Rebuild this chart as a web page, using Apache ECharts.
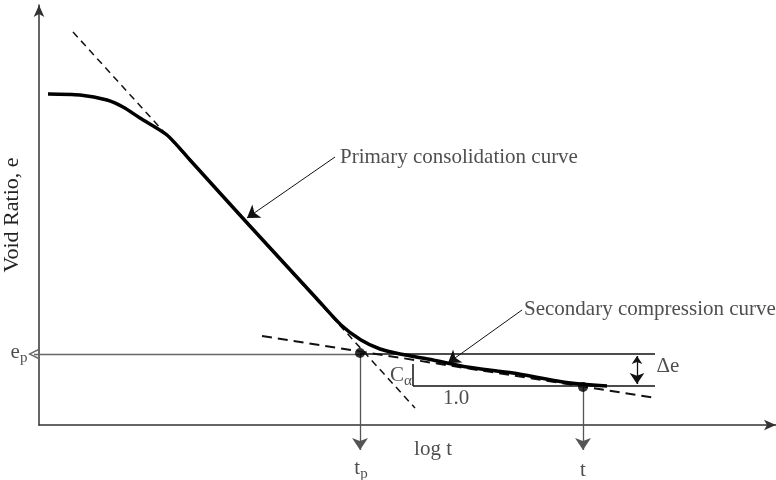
<!DOCTYPE html>
<html>
<head>
<meta charset="utf-8">
<script src="https://cdn.jsdelivr.net/npm/echarts@6/dist/echarts.min.js"></script>
<style>
  html, body { margin: 0; padding: 0; background: #fff; }
  #main { width: 776px; height: 480px; }
</style>
</head>
<body>
<div id="main"></div>
<script>
// schematic units: x = log t, y = void ratio (arbitrary scale)
var primaryCurve = [[9,331],[41,330],[68,325],[84,318],[101,307],[128,290],[151,265],[180,233],[210,200],
  [244,163],[278,126],[302,100],[322,85],[341,76],[361,71],[394,65],[428,58],[474,52],[524,43],[568,39]];
var primaryTangent = [[34,393],[376,17]];
var secondaryTangent = [[223,89],[617,27]];
var keyPoints = [[321,72],[544,38]];          // (tp, ep) and (t, e)
var epLevel = 71, eLevel = 39;
var tpX = 321, tX = 544, slopeX = 374, deltaX = 598;
var xAxisMin = 0, xAxisMax = 737, yAxisMin = 0, yAxisMax = 420;

var labelTexts = ['Primary consolidation curve', 'Secondary compression curve', 'e{sub|p}', 'C{sub|α}',
  '1.0', 'Δe', 'log t', 't{sub|p}', 't'];
var labelPos = [[301,268],[485,116],[-20,73],[362,50],[417,27],[629,59],[394,-24],[322,-43],[544,-45]];
var labelAlign = ['left','left','center','center','center','center','center','center','center'];

var font = 'Liberation Serif';
var chevron = 'path://M0,10 L5,0 L10,10 L8.6,10 L5,2.6 L1.4,10 Z';

var chart = echarts.init(document.getElementById('main'));

var labelData = labelTexts.map(function (txt, i) {
  return {
    value: labelPos[i],
    name: txt,
    label: { align: labelAlign[i] }
  };
});

var option = {
  animation: false,
  grid: { left: 39, right: 0, top: 5, bottom: 55, containLabel: false, outerBoundsMode: 'none' },
  xAxis: {
    type: 'value', min: xAxisMin, max: xAxisMax,
    axisLine: { show: true, symbol: ['none', 'arrow'], symbolSize: [8, 12], lineStyle: { color: '#333', width: 1.5 } },
    axisTick: { show: false }, axisLabel: { show: false }, splitLine: { show: false }
  },
  yAxis: {
    type: 'value', min: yAxisMin, max: yAxisMax,
    name: 'Void Ratio, e', nameLocation: 'middle', nameGap: 16,
    nameTextStyle: { fontFamily: font, fontSize: 22, color: '#222' },
    axisLine: { show: true, symbol: ['none', 'arrow'], symbolSize: [8, 12], lineStyle: { color: '#333', width: 1.5 } },
    axisTick: { show: false }, axisLabel: { show: false }, splitLine: { show: false }
  },
  series: [
    {
      // thin gray e_p line back to the axis
      type: 'lines', coordinateSystem: 'cartesian2d', clip: false, silent: true,
      symbol: ['none', chevron], symbolSize: [8, 12],
      lineStyle: { color: '#666', width: 1.3, opacity: 1 },
      data: [{ coords: [[tpX, epLevel], [-5, epLevel]] }]
    },
    {
      // gray drop arrows to the time axis
      type: 'lines', coordinateSystem: 'cartesian2d', clip: false, silent: true,
      symbol: ['none', 'arrow'], symbolSize: [8, 12],
      lineStyle: { color: '#555', width: 1.3, opacity: 1 },
      data: [
        { coords: [[tpX, epLevel], [tpX, -25]] },
        { coords: [[tX, eLevel], [tX, -25]] }
      ]
    },
    {
      // black reference lines for delta e and slope triangle
      type: 'lines', coordinateSystem: 'cartesian2d', clip: false, silent: true,
      lineStyle: { color: '#111', width: 1.5, opacity: 1 },
      data: [
        { coords: [[tpX, epLevel], [616, epLevel]] },
        { coords: [[slopeX, eLevel], [616, eLevel]] },
        { coords: [[slopeX, 61], [slopeX, eLevel]] }
      ]
    },
    {
      type: 'lines', coordinateSystem: 'cartesian2d', clip: false, silent: true,
      symbol: ['arrow', 'arrow'], symbolSize: [8, 11],
      lineStyle: { color: '#111', width: 1.3, opacity: 1 },
      data: [{ coords: [[deltaX, 69], [deltaX, 41]] }]
    },
    {
      // annotation pointers
      type: 'lines', coordinateSystem: 'cartesian2d', clip: false, silent: true,
      symbol: ['none', 'arrow'], symbolSize: [8, 12],
      lineStyle: { color: '#111', width: 1, opacity: 1 },
      data: [
        { coords: [[296, 268], [208, 207]] },
        { coords: [[483, 115], [409, 62]] }
      ]
    },
    {
      type: 'line', data: primaryTangent, symbol: 'none', silent: true,
      lineStyle: { color: '#111', width: 1.5, type: [7, 5] }
    },
    {
      type: 'line', data: secondaryTangent, symbol: 'none', silent: true,
      lineStyle: { color: '#111', width: 2, type: [10, 6] }
    },
    {
      type: 'line', data: primaryCurve, smooth: 0.25, symbol: 'none', silent: true,
      lineStyle: { color: '#000', width: 3.5 }
    },
    {
      type: 'scatter', data: keyPoints, symbolSize: 10, silent: true,
      itemStyle: { color: '#000' }
    },
    {
      type: 'scatter', data: labelData, symbolSize: 0, clip: false, silent: true,
      label: {
        show: true, position: 'inside', color: '#222', fontFamily: font, fontSize: 21,
        formatter: function (p) { return p.name; },
        rich: {
          sub: { fontFamily: font, fontSize: 15, color: '#222', padding: [13, 0, 0, 0] }
        }
      }
    }
  ]
};

chart.setOption(option);
</script>
</body>
</html>
